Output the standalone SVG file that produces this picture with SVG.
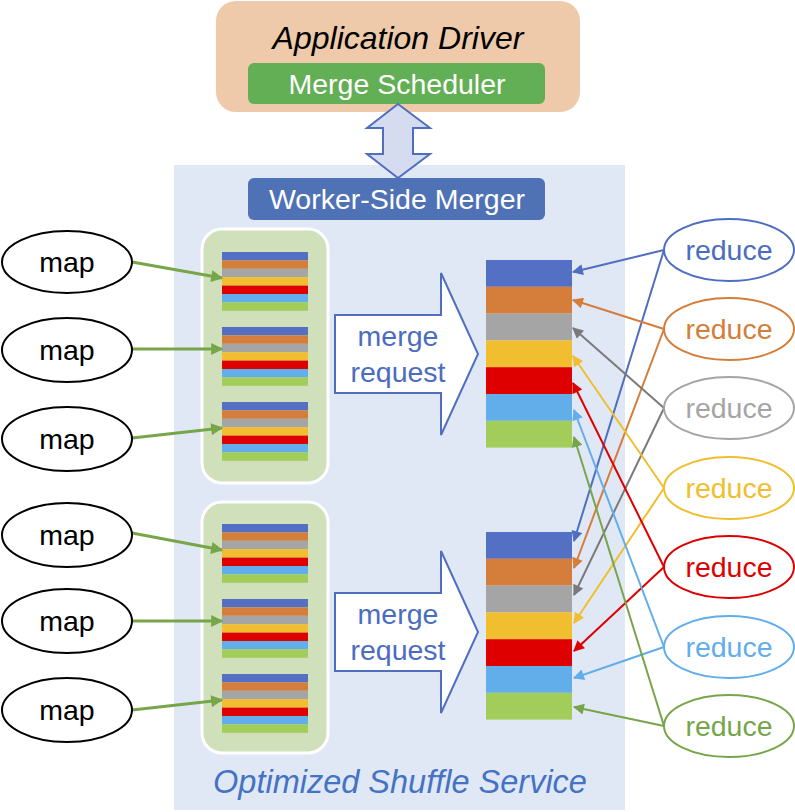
<svg xmlns="http://www.w3.org/2000/svg" xmlns:xlink="http://www.w3.org/1999/xlink" width="795" height="812" viewBox="0 0 795 812">
<style>
text{font-family:"Liberation Sans",Arial,sans-serif;text-anchor:middle}
.t28{font-size:28.5px}
.wt{fill:#fff}
.it{font-style:italic}
.map{fill:#fff;stroke:#000;stroke-width:2}
.red{fill:#fff;stroke-width:2}
.ln{fill:none;stroke-width:2}
.gl{fill:none;stroke:#77A54A;stroke-width:3}
</style>
<defs>
<marker id="mG" viewBox="0 0 10 10" refX="9" refY="5" markerWidth="14" markerHeight="12" markerUnits="userSpaceOnUse" orient="auto"><path d="M0,0L10,5L0,10z" fill="#77A54A"/></marker>
<marker id="m0" viewBox="0 0 10 10" refX="9" refY="5" markerWidth="13" markerHeight="11" markerUnits="userSpaceOnUse" orient="auto"><path d="M0,0L10,5L0,10z" fill="#4F6EC0"/></marker>
<marker id="m1" viewBox="0 0 10 10" refX="9" refY="5" markerWidth="13" markerHeight="11" markerUnits="userSpaceOnUse" orient="auto"><path d="M0,0L10,5L0,10z" fill="#D57D3A"/></marker>
<marker id="m2" viewBox="0 0 10 10" refX="9" refY="5" markerWidth="13" markerHeight="11" markerUnits="userSpaceOnUse" orient="auto"><path d="M0,0L10,5L0,10z" fill="#7A7A7A"/></marker>
<marker id="m3" viewBox="0 0 10 10" refX="9" refY="5" markerWidth="13" markerHeight="11" markerUnits="userSpaceOnUse" orient="auto"><path d="M0,0L10,5L0,10z" fill="#F0BE2E"/></marker>
<marker id="m4" viewBox="0 0 10 10" refX="9" refY="5" markerWidth="13" markerHeight="11" markerUnits="userSpaceOnUse" orient="auto"><path d="M0,0L10,5L0,10z" fill="#DE0000"/></marker>
<marker id="m5" viewBox="0 0 10 10" refX="9" refY="5" markerWidth="13" markerHeight="11" markerUnits="userSpaceOnUse" orient="auto"><path d="M0,0L10,5L0,10z" fill="#62AEEA"/></marker>
<marker id="m6" viewBox="0 0 10 10" refX="9" refY="5" markerWidth="13" markerHeight="11" markerUnits="userSpaceOnUse" orient="auto"><path d="M0,0L10,5L0,10z" fill="#77A54A"/></marker>
<g id="ss">
<rect x="0" y="0" width="86" height="8.4" fill="#5470C4"/>
<rect x="0" y="8.4" width="86" height="8.4" fill="#D57D3A"/>
<rect x="0" y="16.8" width="86" height="8.4" fill="#A5A5A5"/>
<rect x="0" y="25.2" width="86" height="8.4" fill="#F0BE2E"/>
<rect x="0" y="33.6" width="86" height="8.4" fill="#DE0000"/>
<rect x="0" y="42" width="86" height="8.4" fill="#62AEEA"/>
<rect x="0" y="50.4" width="86" height="8.4" fill="#A3CD5A"/>
</g>
<g id="bs">
<rect x="0" y="0" width="86" height="26.8" fill="#5470C4"/>
<rect x="0" y="26.8" width="86" height="26.8" fill="#D57D3A"/>
<rect x="0" y="53.6" width="86" height="26.8" fill="#A5A5A5"/>
<rect x="0" y="80.4" width="86" height="26.8" fill="#F0BE2E"/>
<rect x="0" y="107.2" width="86" height="26.8" fill="#DE0000"/>
<rect x="0" y="134" width="86" height="26.8" fill="#62AEEA"/>
<rect x="0" y="160.8" width="86" height="26.8" fill="#A3CD5A"/>
</g>
</defs>

<rect id="panel" x="174" y="165" width="451" height="645" fill="#E1E8F5"/>

<g id="app-driver">
<rect x="216" y="1" width="364" height="111" rx="20" fill="#EECAAB"/>
<text class="it" x="398" y="49" font-size="32">Application Driver</text>
</g>
<g id="merge-scheduler">
<rect x="248" y="63" width="297" height="41" rx="6" fill="#63AF55"/>
<text class="t28 wt" x="397" y="94">Merge Scheduler</text>
</g>
<g id="double-arrow">
<polygon points="398,104 430,128 413,128 413,154 430,154 398,178 367,154 383,154 383,128 367,128" fill="#D6DCEF" stroke="#4F6EC0" stroke-width="2"/>
</g>
<g id="worker-side-merger">
<rect x="248" y="178" width="297" height="42" rx="6" fill="#4E72B5"/>
<text class="t28 wt" x="397" y="209">Worker-Side Merger</text>
</g>

<g id="group1">
<rect x="202" y="229" width="126" height="254" rx="20" fill="#CFE0BA" stroke="#fff" stroke-width="3"/>
<use xlink:href="#ss" x="222" y="252"/>
<use xlink:href="#ss" x="222" y="327"/>
<use xlink:href="#ss" x="222" y="402"/>
</g>
<g id="group2">
<rect x="202" y="502" width="126" height="251" rx="20" fill="#CFE0BA" stroke="#fff" stroke-width="3"/>
<use xlink:href="#ss" x="222" y="524"/>
<use xlink:href="#ss" x="222" y="599"/>
<use xlink:href="#ss" x="222" y="674"/>
</g>

<g id="merge-request-1">
<polygon points="335,315 441,315 441,273 478,354 441,435 441,393 335,393" fill="#fff" stroke="#4F6EC0" stroke-width="2"/>
<text class="t28" x="398" y="346" fill="#4A6DC0">merge</text>
<text class="t28" x="398" y="382" fill="#4A6DC0">request</text>
</g>
<g id="merge-request-2">
<polygon points="335,593 441,593 441,551 478,632 441,713 441,671 335,671" fill="#fff" stroke="#4F6EC0" stroke-width="2"/>
<text class="t28" x="398" y="624" fill="#4A6DC0">merge</text>
<text class="t28" x="398" y="660" fill="#4A6DC0">request</text>
</g>

<g id="stack-1"><use xlink:href="#bs" x="486" y="260"/></g>
<g id="stack-2"><use xlink:href="#bs" x="486" y="532"/></g>

<g id="connectors">
<line class="gl" x1="132" y1="262" x2="222" y2="278" marker-end="url(#mG)"/>
<line class="gl" x1="132" y1="349" x2="222" y2="349" marker-end="url(#mG)"/>
<line class="gl" x1="132" y1="438" x2="222" y2="428" marker-end="url(#mG)"/>
<line class="gl" x1="132" y1="533" x2="222" y2="550" marker-end="url(#mG)"/>
<line class="gl" x1="132" y1="621" x2="222" y2="621" marker-end="url(#mG)"/>
<line class="gl" x1="132" y1="710" x2="222" y2="700" marker-end="url(#mG)"/>

<line class="ln" stroke="#4F6EC0" x1="664" y1="250" x2="573" y2="272" marker-end="url(#m0)"/>
<line class="ln" stroke="#4F6EC0" x1="664" y1="250" x2="574" y2="541" marker-end="url(#m0)"/>
<line class="ln" stroke="#D57D3A" x1="664" y1="329" x2="573" y2="300" marker-end="url(#m1)"/>
<line class="ln" stroke="#D57D3A" x1="664" y1="329" x2="574" y2="568" marker-end="url(#m1)"/>
<line class="ln" stroke="#7A7A7A" x1="664" y1="408" x2="573" y2="328" marker-end="url(#m2)"/>
<line class="ln" stroke="#7A7A7A" x1="664" y1="408" x2="574" y2="595" marker-end="url(#m2)"/>
<line class="ln" stroke="#F0BE2E" x1="664" y1="488" x2="573" y2="356" marker-end="url(#m3)"/>
<line class="ln" stroke="#F0BE2E" x1="664" y1="488" x2="574" y2="623" marker-end="url(#m3)"/>
<line class="ln" stroke="#DE0000" x1="664" y1="567" x2="573" y2="383" marker-end="url(#m4)"/>
<line class="ln" stroke="#DE0000" x1="664" y1="567" x2="574" y2="651" marker-end="url(#m4)"/>
<line class="ln" stroke="#62AEEA" x1="664" y1="647" x2="574" y2="410" marker-end="url(#m5)"/>
<line class="ln" stroke="#62AEEA" x1="664" y1="647" x2="574" y2="678" marker-end="url(#m5)"/>
<line class="ln" stroke="#77A54A" x1="664" y1="726" x2="574" y2="437" marker-end="url(#m6)"/>
<line class="ln" stroke="#77A54A" x1="664" y1="726" x2="574" y2="707" marker-end="url(#m6)"/>
</g>

<g id="map-1"><ellipse class="map" cx="67" cy="262" rx="65" ry="31"/><text class="t28" x="67" y="272">map</text></g>
<g id="map-2"><ellipse class="map" cx="67" cy="350" rx="65" ry="32"/><text class="t28" x="67" y="360">map</text></g>
<g id="map-3"><ellipse class="map" cx="67" cy="439" rx="65" ry="32"/><text class="t28" x="67" y="449">map</text></g>
<g id="map-4"><ellipse class="map" cx="67" cy="535" rx="65" ry="32"/><text class="t28" x="67" y="545">map</text></g>
<g id="map-5"><ellipse class="map" cx="67" cy="621" rx="65" ry="32"/><text class="t28" x="67" y="631">map</text></g>
<g id="map-6"><ellipse class="map" cx="67" cy="710" rx="65" ry="32"/><text class="t28" x="67" y="720">map</text></g>

<g id="reduce-1"><ellipse class="red" stroke="#4F6EC0" cx="729" cy="250" rx="65" ry="31"/><text class="t28" x="729" y="260" fill="#4A6DC0">reduce</text></g>
<g id="reduce-2"><ellipse class="red" stroke="#D57D3A" cx="729" cy="329" rx="65" ry="31"/><text class="t28" x="729" y="339" fill="#D57D3A">reduce</text></g>
<g id="reduce-3"><ellipse class="red" stroke="#A5A5A5" cx="729" cy="408" rx="65" ry="31"/><text class="t28" x="729" y="418" fill="#A5A5A5">reduce</text></g>
<g id="reduce-4"><ellipse class="red" stroke="#F0BE2E" cx="729" cy="488" rx="65" ry="31"/><text class="t28" x="729" y="498" fill="#F0BE2E">reduce</text></g>
<g id="reduce-5"><ellipse class="red" stroke="#DE0000" cx="729" cy="567" rx="65" ry="31"/><text class="t28" x="729" y="577" fill="#DE0000">reduce</text></g>
<g id="reduce-6"><ellipse class="red" stroke="#62AEEA" cx="729" cy="647" rx="65" ry="31"/><text class="t28" x="729" y="657" fill="#62AEEA">reduce</text></g>
<g id="reduce-7"><ellipse class="red" stroke="#77A54A" cx="729" cy="726" rx="65" ry="31"/><text class="t28" x="729" y="736" fill="#77A54A">reduce</text></g>

<text class="it" x="400" y="793" font-size="32.5" fill="#4472C4">Optimized Shuffle Service</text>
</svg>
